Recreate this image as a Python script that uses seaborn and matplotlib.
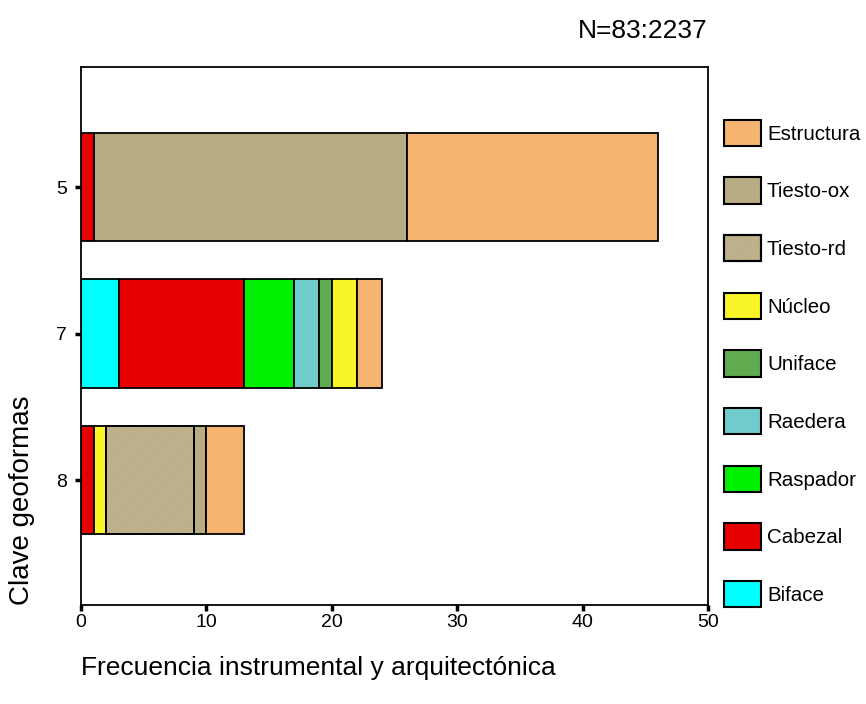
import numpy as np
import pandas as pd
import matplotlib
matplotlib.use("Agg")
import matplotlib.pyplot as plt
from matplotlib.patches import Patch, Rectangle
from matplotlib.legend_handler import HandlerTuple
from matplotlib.colors import to_rgba
import seaborn as sns

# Geoform keys (rows) and artefact classes (stacked from left to right)
clave = ["5", "7", "8"]
tipos = ["Biface", "Cabezal", "Raspador", "Raedera", "Uniface",
         "Núcleo", "Tiesto-rd", "Tiesto-ox", "Estructura"]

# Counts per class for each geoform key (5, 7, 8)
biface = [0, 3, 0]
cabezal = [1, 10, 1]
raspador = [0, 4, 0]
raedera = [0, 2, 0]
uniface = [0, 1, 0]
nucleo = [0, 2, 1]
tiesto_rd = [0, 0, 7]
tiesto_ox = [25, 0, 1]
estructura = [20, 2, 3]

xticks = [0, 10, 20, 30, 40, 50]
titulo = "N=83:2237"

colores = {
    "Biface": "#00FFFF",
    "Cabezal": "#E60000",
    "Raspador": "#00F000",
    "Raedera": "#70CCCC",
    "Uniface": "#60AA50",
    "Núcleo": "#F8F428",
    "Tiesto-rd": "#B4A982",
    "Tiesto-ox": "#B8AC84",
    "Estructura": "#F5B470",
}
trama_rd = "#CFC5A0"

series = [biface, cabezal, raspador, raedera, uniface,
          nucleo, tiesto_rd, tiesto_ox, estructura]
filas = []
for tipo, valores in zip(tipos, series):
    for pos, (c, n) in enumerate(zip(clave, valores)):
        filas.append({"pos": pos, "clave": c, "tipo": tipo, "n": n})
df = pd.DataFrame(filas)

sns.set_style("white")
plt.rcParams["font.family"] = ["Liberation Sans", "DejaVu Sans"]
for k in ("text.color", "axes.labelcolor", "xtick.color", "ytick.color"):
    plt.rcParams[k] = "black"
plt.rcParams["hatch.linewidth"] = 0.5

fig = plt.figure(figsize=(8.66, 7.04), dpi=100)
ax = fig.add_axes([0.0935, 0.1406, 0.7241, 0.7642])

# seaborn stacks the last hue level at the baseline
orden = tipos[::-1]
sns.histplot(data=df, y="pos", hue="tipo", weights="n", hue_order=orden,
             palette=colores, multiple="stack", discrete=True, shrink=0.74,
             alpha=1, edgecolor="black", linewidth=1.3, legend=False, ax=ax)

# drop empty segments, add the fine texture on Tiesto-rd
rd_rgba = np.array(to_rgba(colores["Tiesto-rd"]))
for p in list(ax.patches):
    if p.get_width() == 0:
        p.remove()
        continue
    if np.allclose(np.array(p.get_facecolor()), rd_rgba, atol=1e-3):
        r = Rectangle((p.get_x(), p.get_y()), p.get_width(), p.get_height(),
                      facecolor="none", edgecolor=trama_rd, linewidth=0,
                      hatch="/" * 10, zorder=p.get_zorder() + 0.1)
        ax.add_patch(r)
        borde = Rectangle((p.get_x(), p.get_y()), p.get_width(), p.get_height(),
                          facecolor="none", edgecolor="black", linewidth=1.3,
                          zorder=p.get_zorder() + 0.2)
        ax.add_patch(borde)

ax.set_xlim(0, 50)
ax.set_ylim(2.853, -0.819)
ax.set_xticks(xticks)
ax.set_xticklabels([str(t) for t in xticks], fontsize=14)
ax.set_yticks(range(len(clave)))
ax.set_yticklabels(clave, fontsize=14)
ax.tick_params(axis="both", which="both", length=4, width=2.5, color="black",
               direction="out", bottom=True, left=True, pad=6)
ax.tick_params(axis="x", pad=2.5)

for s in ax.spines.values():
    s.set_visible(True)
    s.set_color("black")
    s.set_linewidth(1.3)

ax.set_xlabel("Frecuencia instrumental y arquitectónica", fontsize=19,
              loc="left", labelpad=18)
ax.set_ylabel("Clave geoformas", fontsize=20, loc="bottom", labelpad=15)
ax.set_title(titulo, loc="right", fontsize=19, pad=21)

# legend: top class first
handles = []
for t in orden:
    base = Patch(facecolor=colores[t], edgecolor="black", linewidth=1.5)
    if t == "Tiesto-rd":
        tex = Patch(facecolor="none", edgecolor=trama_rd, linewidth=0,
                    hatch="/" * 10)
        cont = Patch(facecolor="none", edgecolor="black", linewidth=1.5)
        handles.append((base, tex, cont))
    else:
        handles.append(base)
leg = ax.legend(handles, orden, loc="upper left", bbox_to_anchor=(1.025, 0.902),
                frameon=False, fontsize=14.8, handlelength=1.82,
                handleheight=1.6, labelspacing=1.52, handletextpad=0.28,
                borderaxespad=0, borderpad=0,
                handler_map={tuple: HandlerTuple(ndivide=1, pad=0)})

fig.savefig("out.png", dpi=100)
